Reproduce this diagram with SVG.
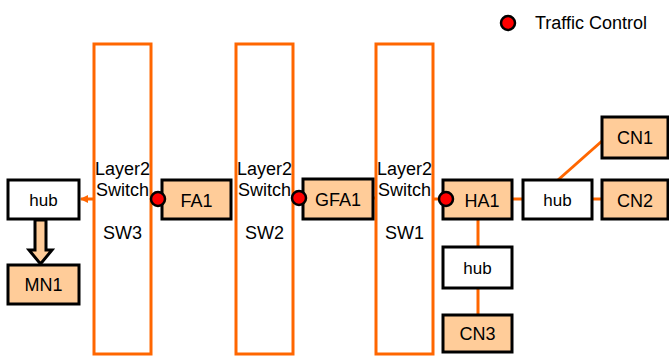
<svg xmlns="http://www.w3.org/2000/svg" width="669" height="356" viewBox="0 0 669 356">
<style>
.sw{fill:#fff;stroke:#FF6600;stroke-width:3}
.n{fill:#FFCC99;stroke:#000;stroke-width:3}
.h{fill:#fff;stroke:#000;stroke-width:3}
.t{font-family:"Liberation Sans",Arial,sans-serif;font-size:18px;fill:#000;text-anchor:middle}
.hb{font-size:17px}
.c{stroke:#FF6600;stroke-width:3;fill:none}
.tc{fill:#FF0000;stroke:#000;stroke-width:2.5}
</style>
<defs>
<marker id="ah" markerWidth="8" markerHeight="8" refX="7" refY="4" orient="auto" markerUnits="userSpaceOnUse">
<path d="M0,0 L8,4 L0,8 Z" fill="#FF6600"/>
</marker>
</defs>
<rect width="669" height="356" fill="#fff"/>
<g id="legend">
<circle class="tc" cx="508" cy="23" r="7"/>
<text x="535" y="29" font-family="Liberation Sans,Arial,sans-serif" font-size="18" fill="#000">Traffic Control</text>
</g>
<g id="SW3">
<rect class="sw" x="94" y="44" width="57" height="310"/>
<text class="t" x="122.5" y="175">Layer2</text>
<text class="t" x="122.5" y="196">Switch</text>
<text class="t" x="122.5" y="239">SW3</text>
</g>
<g id="SW2">
<rect class="sw" x="236" y="44" width="57" height="310"/>
<text class="t" x="264.5" y="175">Layer2</text>
<text class="t" x="264.5" y="196">Switch</text>
<text class="t" x="264.5" y="239">SW2</text>
</g>
<g id="SW1">
<rect class="sw" x="376" y="44" width="57" height="310"/>
<text class="t" x="404.5" y="175">Layer2</text>
<text class="t" x="404.5" y="196">Switch</text>
<text class="t" x="404.5" y="239">SW1</text>
</g>
<g id="connectors">
<line class="c" x1="93" y1="199" x2="81" y2="199" stroke-width="2" marker-end="url(#ah)"/>
<line class="c" x1="151" y1="199" x2="162" y2="199"/>
<line class="c" x1="293" y1="198" x2="303" y2="198"/>
<line class="c" x1="373" y1="198" x2="376" y2="198"/>
<line class="c" x1="433" y1="199" x2="443" y2="199"/>
<line class="c" x1="512" y1="199" x2="523" y2="199"/>
<line class="c" x1="592" y1="199" x2="602" y2="199"/>
<line class="c" x1="558" y1="180" x2="602" y2="141"/>
<line class="c" x1="478" y1="219" x2="478" y2="247"/>
<line class="c" x1="478" y1="288" x2="478" y2="315"/>
<path d="M35,220 L46,220 L46,250 L52,250 L40.5,264 L29,250 L35,250 Z" fill="#FFCC99" stroke="#000" stroke-width="3" stroke-linejoin="miter"/>
</g>
<g id="hub3">
<rect class="h" x="8" y="180" width="71" height="39"/>
<text class="t hb" x="43.5" y="206">hub</text>
</g>
<g id="MN1">
<rect class="n" x="8" y="265" width="71" height="39"/>
<text class="t" x="43.5" y="291">MN1</text>
</g>
<g id="FA1">
<rect class="n" x="162" y="180" width="69" height="39"/>
<text class="t" x="196.5" y="207">FA1</text>
<circle class="tc" cx="158" cy="199" r="7"/>
</g>
<g id="GFA1">
<rect class="n" x="303" y="179" width="70" height="40"/>
<text class="t" x="338" y="206">GFA1</text>
<circle class="tc" cx="299" cy="198" r="7"/>
</g>
<g id="HA1">
<rect class="n" x="443" y="180" width="69" height="39"/>
<text class="t" x="482" y="207">HA1</text>
<circle class="tc" cx="446" cy="199" r="7"/>
</g>
<g id="hub1">
<rect class="h" x="523" y="180" width="69" height="39"/>
<text class="t hb" x="557.5" y="206">hub</text>
</g>
<g id="CN1">
<rect class="n" x="602" y="117" width="66" height="41"/>
<text class="t" x="635" y="144">CN1</text>
</g>
<g id="CN2">
<rect class="n" x="602" y="180" width="66" height="39"/>
<text class="t" x="635" y="207">CN2</text>
</g>
<g id="hub2">
<rect class="h" x="443" y="247" width="69" height="41"/>
<text class="t hb" x="477.5" y="274">hub</text>
</g>
<g id="CN3">
<rect class="n" x="443" y="315" width="69" height="37"/>
<text class="t" x="477.5" y="340">CN3</text>
</g>
</svg>
